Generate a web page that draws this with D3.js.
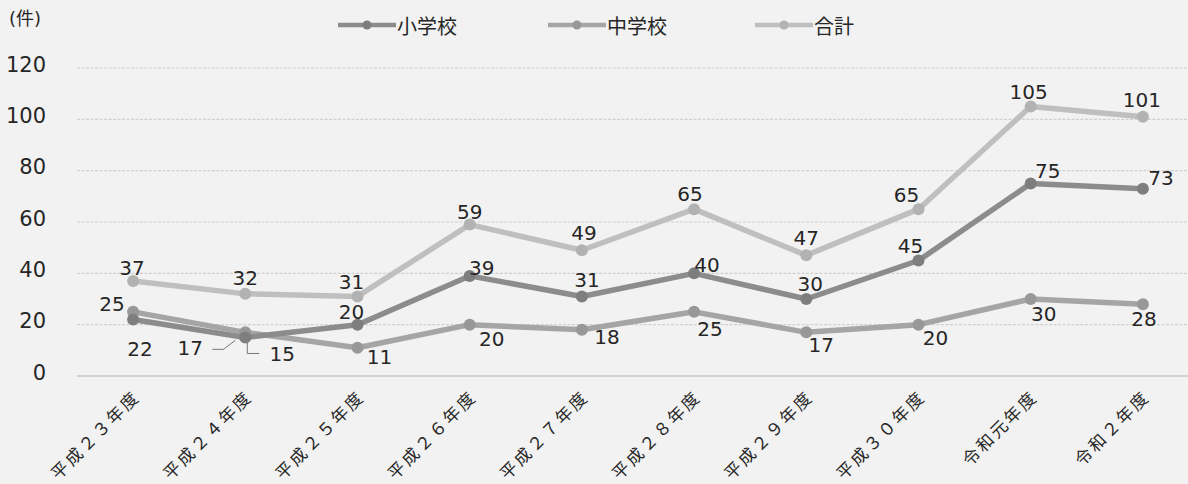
<!DOCTYPE html>
<html>
<head>
<meta charset="utf-8">
<script src="https://cdn.jsdelivr.net/npm/d3@7"></script>
<style>
  html, body { margin: 0; padding: 0; background: #f2f2f2; }
  svg { display: block; }
  text { font-family: "DejaVu Sans", "Noto Sans CJK JP", sans-serif; fill: #262626; }
</style>
</head>
<body>
<svg id="chart" width="1188" height="484"></svg>
<script>
// Fiscal years
const years = ["平成２３年度", "平成２４年度", "平成２５年度", "平成２６年度", "平成２７年度",
               "平成２８年度", "平成２９年度", "平成３０年度", "令和元年度", "令和２年度"];

// Counts (件)
const elementary = [22, 15, 20, 39, 31, 40, 30, 45, 75, 73];   // 小学校
const juniorHigh = [25, 17, 11, 20, 18, 25, 17, 20, 30, 28];   // 中学校
const total      = [37, 32, 31, 59, 49, 65, 47, 65, 105, 101]; // 合計

const yTicks = [0, 20, 40, 60, 80, 100, 120];

// Label nudges (px) for each point, per series
const offElementary = [[7, 29], [0, 0], [-6, -13], [12, -8], [5, -16], [13, -8], [4, -15], [-8, -15], [17, -13], [18, -11]];
const offJunior     = [[-21, -8], [0, 0], [22, 9], [22, 14], [25, 7], [16, 17], [15, 13], [17, 13], [13, 15], [1, 15]];
const offTotal      = [[-1, -13], [0, -16], [-6, -14], [0, -13], [2, -17], [-4, -15], [0, -17], [-12, -14], [-2, -15], [-1, -17]];

const series = [
  { name: "小学校", values: elementary, line: "#8c8c8c", dot: "#7e7e7e", off: offElementary },
  { name: "中学校", values: juniorHigh, line: "#a5a5a5", dot: "#989898", off: offJunior },
  { name: "合計",   values: total,      line: "#bfbfbf", dot: "#b2b2b2", off: offTotal }
];

const svg = d3.select("#chart");

const x = d3.scalePoint().domain(years).range([77, 1199]).padding(0.5);
const y = d3.scaleLinear().domain([0, 120]).range([376, 68]);

// Horizontal grid lines
const grid = svg.append("g");
grid.selectAll("line").data(yTicks).join("line")
  .attr("x1", 77).attr("x2", 1188)
  .attr("y1", d => y(d)).attr("y2", d => y(d))
  .attr("stroke", d => d === 0 ? "#b0b0b0" : "#d0d0d0")
  .attr("stroke-width", 1.2)
  .attr("stroke-dasharray", d => d === 0 ? null : "3 1.5");

// Y axis labels
const yAxis = d3.axisLeft(y).tickValues(yTicks).tickSize(0).tickPadding(0);
const gy = svg.append("g").attr("transform", "translate(46,0)").call(yAxis);
gy.select(".domain").remove();
gy.selectAll("text")
  .attr("dy", null)
  .attr("y", -3)
  .style("font-size", "21px")
  .style("dominant-baseline", "middle")
  .style("font-family", "\"DejaVu Sans\", \"Noto Sans CJK JP\", sans-serif")
  .attr("fill", "#262626");

// Unit
svg.append("text").attr("x", 9).attr("y", 25)
  .style("font-size", "18px").text("(件)");

// X axis labels (rotated)
const xAxis = d3.axisBottom(x).tickSize(0).tickPadding(0);
const gx = svg.append("g").call(xAxis);
gx.select(".domain").remove();
gx.selectAll(".tick").attr("transform", null);
gx.selectAll(".tick text")
  .attr("x", null).attr("y", null).attr("dy", null)
  .attr("text-anchor", "end")
  .attr("transform", d => `translate(${x(d) + 8},${398}) rotate(-45)`)
  .style("font-size", "17px")
  .style("letter-spacing", "2.5px")
  .style("font-family", "\"Noto Sans CJK JP\", sans-serif")
  .attr("fill", "#262626");

// Lines and markers
const line = d3.line().x((d, i) => x(years[i])).y(d => y(d));

series.slice().reverse().forEach(s => {
  const g = svg.append("g");
  g.append("path").datum(s.values)
    .attr("d", line)
    .attr("fill", "none")
    .attr("stroke", s.line)
    .attr("stroke-width", 5.5)
    .attr("stroke-linejoin", "round");
  g.selectAll("circle").data(s.values).join("circle")
    .attr("cx", (d, i) => x(years[i]))
    .attr("cy", d => y(d))
    .attr("r", 6)
    .attr("fill", s.dot);
});

// Data labels
series.forEach(s => {
  svg.append("g").selectAll("text").data(s.values.map((v, i) => ({ v, i })))
    .join("text")
    .filter(d => !(d.i === 1 && s.name !== "合計"))
    .attr("x", d => x(years[d.i]) + s.off[d.i][0])
    .attr("y", d => y(d.v) + s.off[d.i][1])
    .attr("text-anchor", "middle")
    .attr("dominant-baseline", "central")
    .style("font-size", "20px")
    .text(d => d.v);
});

// Crowded point: labels with leader lines
const x24 = x(years[1]);
svg.append("text").attr("x", x24 - 55).attr("y", y(juniorHigh[1]) + 16)
  .attr("text-anchor", "middle").attr("dominant-baseline", "central")
  .style("font-size", "20px").text(juniorHigh[1]);
svg.append("path")
  .attr("d", `M${x24 - 33},${y(juniorHigh[1]) + 17} L${x24 - 22},${y(juniorHigh[1]) + 17} L${x24 - 10},${y(juniorHigh[1]) + 8}`)
  .attr("fill", "none").attr("stroke", "#777").attr("stroke-width", 1);
svg.append("text").attr("x", x24 + 37).attr("y", y(elementary[1]) + 16)
  .attr("text-anchor", "middle").attr("dominant-baseline", "central")
  .style("font-size", "20px").text(elementary[1]);
svg.append("path")
  .attr("d", `M${x24 + 2},${y(elementary[1]) + 5} L${x24 + 2},${y(elementary[1]) + 16} L${x24 + 14},${y(elementary[1]) + 16}`)
  .attr("fill", "none").attr("stroke", "#777").attr("stroke-width", 1);

// Legend
const legendX = [338, 548, 755];
series.forEach((s, i) => {
  const lg = svg.append("g").attr("transform", `translate(${legendX[i]},25)`);
  lg.append("line").attr("x1", 0).attr("x2", 58).attr("y1", 0).attr("y2", 0)
    .attr("stroke", s.line).attr("stroke-width", 4.5);
  lg.append("circle").attr("cx", 29).attr("cy", 0).attr("r", 4.5).attr("fill", s.dot);
  lg.append("text").attr("x", 59).attr("y", 0)
    .attr("dominant-baseline", "central")
    .style("font-size", "20px")
    .style("font-family", "\"Noto Sans CJK JP\", sans-serif")
    .text(s.name);
});
</script>
</body>
</html>
